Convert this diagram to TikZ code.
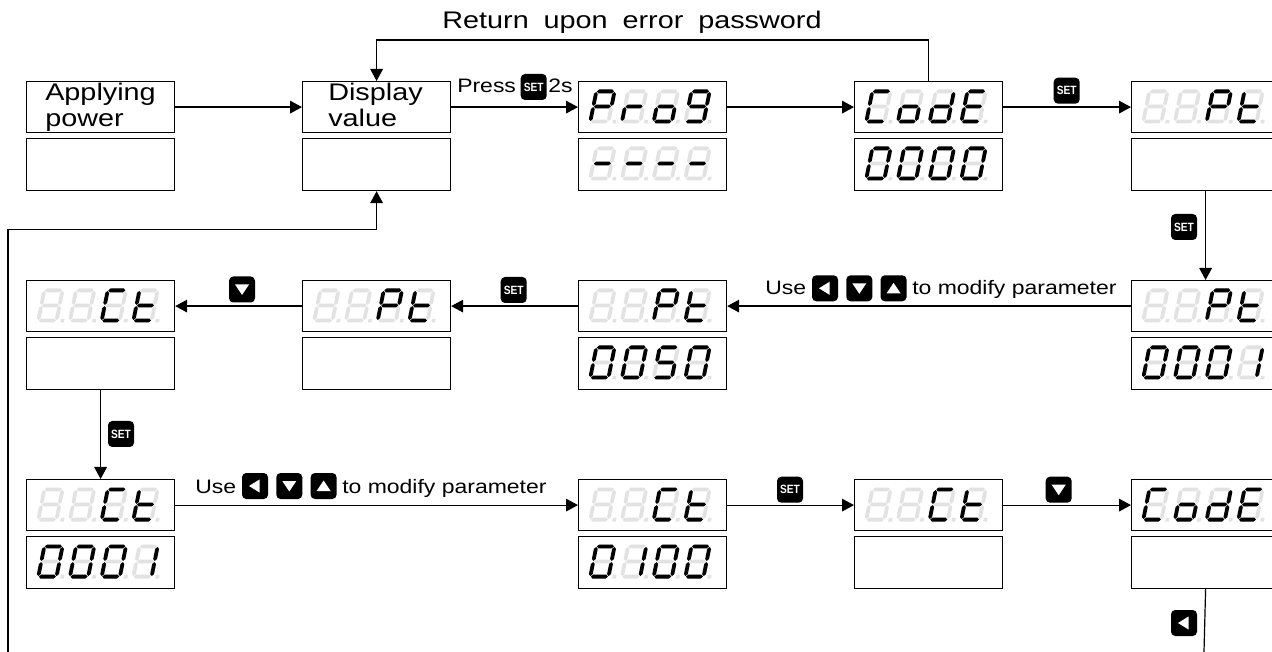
\documentclass[tikz,border=0pt]{standalone}
\usepackage{fontspec}
\setmainfont{Liberation Sans}
\newfontfamily\bigf[FakeStretch=1.2]{Liberation Sans}
\newfontfamily\midf[FakeStretch=1.18]{Liberation Sans}
\newfontfamily\keyf[FakeStretch=0.85]{Liberation Sans}
\usetikzlibrary{arrows.meta}
\definecolor{ghost}{RGB}{226,226,226}

% seven-segment pieces (local units: px, y up)
\newcommand\hseg[2]{\fill[#1] (2.5,#2) -- (4.4,#2+1.9) -- (17.6,#2+1.9) -- (19.5,#2) -- (17.6,#2-1.9) -- (4.4,#2-1.9) -- cycle;}
\newcommand\vseg[3]{\fill[#1] (#2,#3+0.6) -- (#2+1.9,#3+2.5) -- (#2+1.9,#3+12.6) -- (#2,#3+14.5) -- (#2-1.9,#3+12.6) -- (#2-1.9,#3+2.5) -- cycle;}
\newcommand\SEGa[1]{\hseg{#1}{32.1}}
\newcommand\SEGb[1]{\vseg{#1}{20.1}{17}}
\newcommand\SEGc[1]{\vseg{#1}{20.1}{1.9}}
\newcommand\SEGd[1]{\hseg{#1}{1.9}}
\newcommand\SEGe[1]{\vseg{#1}{1.9}{1.9}}
\newcommand\SEGf[1]{\vseg{#1}{1.9}{17}}
\newcommand\SEGg[1]{\hseg{#1}{17}}
\newcommand\SEGp[1]{\fill[#1] (24.2,0) rectangle (27.8,3.6);}
\newcommand\SEGn[1]{}
\def\sgP{a,b,e,f,g}
\def\sgr{e,g}
\def\sgo{c,d,e,g}
\def\sgnine{a,b,c,d,f,g}
\def\sgdash{g}
\def\sgC{a,d,e,f}
\def\sgd{b,c,d,e,g}
\def\sgE{a,d,e,f,g}
\def\sgzero{a,b,c,d,e,f}
\def\sgt{d,e,f,g}
\def\sgfive{a,c,d,f,g}
\def\sgone{b,c}
\def\sgnone{n}
\newcommand\sdig[3]{\begin{scope}[shift={(#1,#2)},x=0.75pt,y=0.75pt,xslant=0.2]
\foreach \s in {a,b,c,d,e,f,g,p}{\csname SEG\s\endcsname{ghost}}
\foreach \s in #3{\csname SEG\s\endcsname{black}}
\end{scope}}
\newcommand\disp[6]{\sdig{#1+10}{#2+42.5}{#3}\sdig{#1+41.7}{#2+42.5}{#4}\sdig{#1+73.4}{#2+42.5}{#5}\sdig{#1+105.1}{#2+42.5}{#6}}
\newcommand\trileft[1]{\fill[white] ([shift={(-6,0)}]#1.center) -- ([shift={(4.5,-6.5)}]#1.center) -- ([shift={(4.5,6.5)}]#1.center) -- cycle;}
\newcommand\tridown[1]{\fill[white] ([shift={(0,5.5)}]#1.center) -- ([shift={(-7,-5)}]#1.center) -- ([shift={(7,-5)}]#1.center) -- cycle;}
\newcommand\triup[1]{\fill[white] ([shift={(0,-5.5)}]#1.center) -- ([shift={(-7,5)}]#1.center) -- ([shift={(7,5)}]#1.center) -- cycle;}

\tikzset{
  dbox/.style={draw, line width=0.9pt, minimum width=111pt, minimum height=38.25pt, inner sep=0pt, anchor=north west},
  dboxb/.style={dbox, minimum height=39pt},
  key/.style={fill=black, rounded corners=3.2pt, minimum size=19.5pt, inner sep=0pt, text=white, font=\keyf\bfseries\fontsize{9}{9}\selectfont},
  bigt/.style={inner sep=0pt, font=\bigf\fontsize{18}{19.5}\selectfont},
  midt/.style={inner sep=0pt, font=\midf\fontsize{14.6}{16}\selectfont},
  arr/.style={line width=0.9pt, -{Triangle[length=9pt,width=9.5pt]}},
  ln/.style={line width=0.9pt}
}

\begin{document}
\begin{tikzpicture}[x=0.75pt,y=-0.75pt]
\useasboundingbox (0,0) rectangle (1272,652);
\fill[white] (0,0) rectangle (1272,652);

% boxes
\foreach \r/\c/\X/\Y in {1/1/26/81,1/2/302/81,1/3/578/81,1/4/854/81,1/5/1131/81,
  2/1/26/280,2/2/302/280,2/3/578/280,2/5/1131/280,
  3/1/26/479,3/3/578/479,3/4/854/479,3/5/1131/479}{
    \node[dbox] (r\r c\c t) at (\X,\Y) {};
    \node[dboxb] (r\r c\c b) at (\X,\Y+57) {};
}

% displays
\disp{578}{81}{\sgP}{\sgr}{\sgo}{\sgnine}
\disp{578}{138}{\sgdash}{\sgdash}{\sgdash}{\sgdash}
\disp{854}{81}{\sgC}{\sgo}{\sgd}{\sgE}
\disp{854}{138}{\sgzero}{\sgzero}{\sgzero}{\sgzero}
\disp{1131}{81}{\sgnone}{\sgnone}{\sgP}{\sgt}
\disp{1131}{280}{\sgnone}{\sgnone}{\sgP}{\sgt}
\disp{1131}{337}{\sgzero}{\sgzero}{\sgzero}{\sgone}
\disp{578}{280}{\sgnone}{\sgnone}{\sgP}{\sgt}
\disp{578}{337}{\sgzero}{\sgzero}{\sgfive}{\sgzero}
\disp{302}{280}{\sgnone}{\sgnone}{\sgP}{\sgt}
\disp{26}{280}{\sgnone}{\sgnone}{\sgC}{\sgt}
\disp{26}{479}{\sgnone}{\sgnone}{\sgC}{\sgt}
\disp{26}{536}{\sgzero}{\sgzero}{\sgzero}{\sgone}
\disp{578}{479}{\sgnone}{\sgnone}{\sgC}{\sgt}
\disp{578}{536}{\sgzero}{\sgone}{\sgzero}{\sgzero}
\disp{854}{479}{\sgnone}{\sgnone}{\sgC}{\sgt}
\disp{1131}{479}{\sgC}{\sgo}{\sgd}{\sgE}

% texts in boxes
\node[bigt, anchor=north west, align=left] (tap) at (45,82.5) {Applying\\power};
\node[bigt, anchor=north west, align=left] (tdv) at (328,82.5) {Display\\value};
\node[bigt, anchor=base] (ret) at (632,29) {\spaceskip=0.62em Return upon error password};

% labels and keys
\node[midt, anchor=base west] (pr) at (457,93) {Press};
\node[key] (k1) at (533.7,87) {SET};
\node[midt, anchor=base west] (p2) at (548,93) {2s};
\node[key] (k2) at (1066.7,90.7) {SET};
\node[key] (k3) at (1184,227) {SET};
\node[key] (k4) at (242,289.5) {}; \tridown{k4}
\node[key] (k5) at (513.7,290) {SET};
\node[key] (k6) at (121,434) {SET};
\node[key] (k7) at (790,489.7) {SET};
\node[key] (k8) at (1058.7,489.7) {}; \tridown{k8}
\node[key] (k9) at (1184,623) {}; \trileft{k9}

\node[midt, anchor=base west] (u2) at (765,295) {Use};
\node[key] (u2a) at (825,288.3) {}; \trileft{u2a}
\node[key] (u2b) at (859.3,288.3) {}; \tridown{u2b}
\node[key] (u2c) at (893.6,288.3) {}; \triup{u2c}
\node[midt, anchor=base west] (u2t) at (912,295) {to modify parameter};

\node[midt, anchor=base west] (u3) at (195,493.5) {Use};
\node[key] (u3a) at (255,486) {}; \trileft{u3a}
\node[key] (u3b) at (289.3,486) {}; \tridown{u3b}
\node[key] (u3c) at (323.6,486) {}; \triup{u3c}
\node[midt, anchor=base west] (u3t) at (342,493.5) {to modify parameter};

% connectors
\draw[arr] (r1c1t.east) -- (r1c2t.west);
\draw[arr] (r1c2t.east) -- (r1c3t.west);
\draw[arr] (r1c3t.east) -- (r1c4t.west);
\draw[arr] (r1c4t.east) -- (r1c5t.west);
\draw[arr] (r1c4t.north) -- ++(0,-41) -| (r1c2t.north);
\draw[arr] (r1c5b.south) -- (r2c5t.north);
\draw[arr] (r2c5t.west) -- (r2c3t.east);
\draw[arr] (r2c3t.west) -- (r2c2t.east);
\draw[arr] (r2c2t.west) -- (r2c1t.east);
\draw[arr] (r2c1b.south) -- (r3c1t.north);
\draw[arr] (r3c1t.east) -- (r3c3t.west);
\draw[arr] (r3c3t.east) -- (r3c4t.west);
\draw[arr] (r3c4t.east) -- (r3c5t.west);
\coordinate (bot5) at (1204,652);
\coordinate (botL) at (8,652);
\draw[ln] (r3c5b.south) -- (bot5);
\draw[arr] (botL) |- ([yshift=-28.5pt]r1c2b.south) -- (r1c2b.south);
\end{tikzpicture}
\end{document}
